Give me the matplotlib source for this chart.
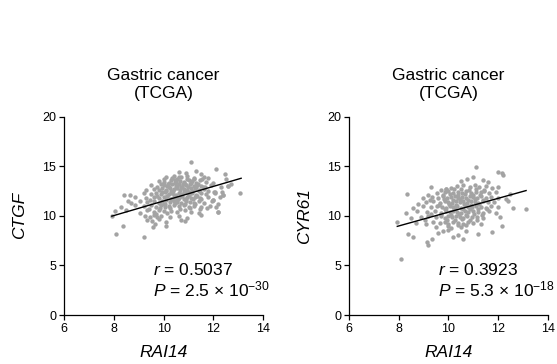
import matplotlib
matplotlib.use("Agg")
import matplotlib.pyplot as plt

plt.rcParams['font.family'] = ['Liberation Sans', 'DejaVu Sans']
plt.rcParams['mathtext.fontset'] = 'custom'
plt.rcParams['mathtext.rm'] = 'Liberation Sans'
plt.rcParams['mathtext.it'] = 'Liberation Sans:italic'

# Panel 1: RAI14 vs CTGF (gastric cancer, TCGA)
rai14_a = [
    11.1, 12.1, 12.45, 11.5, 10.6, 11.3, 10.9, 11.8,
    10.1, 10.4, 10.7, 10.95, 11.2, 11.6, 12.5, 10.55,
    9.8, 10.0, 10.3, 10.5, 10.65, 10.8, 11.0, 11.15, 11.3, 11.45, 11.7, 12.0, 12.6, 10.2,
    9.5, 9.75, 10.0, 10.15, 10.35, 10.5, 10.6, 10.75, 10.9, 11.05, 11.2, 11.35, 11.5, 11.65, 11.9, 12.3, 10.45, 10.85,
    9.3, 9.6, 9.8, 9.95, 10.1, 10.25, 10.4, 10.55, 10.65, 10.8, 10.95, 11.1, 11.25, 11.4, 11.6, 11.8, 12.05, 12.35, 10.3, 11.0,
    8.65, 9.2, 9.5, 9.7, 9.9, 10.05, 10.2, 10.35, 10.5, 10.6, 10.7, 10.85, 11.0, 11.15, 11.3, 11.5, 11.7, 12.0, 12.4, 8.4, 8.55,
    8.85, 9.3, 9.6, 9.8, 10.0, 10.15, 10.3, 10.45, 10.6, 10.7, 10.8, 10.95, 11.1, 11.25, 11.45, 11.8, 12.05, 9.45, 10.55,
    8.7, 9.05, 9.35, 9.6, 9.8, 9.95, 10.1, 10.25, 10.4, 10.55, 10.7, 10.9, 11.05, 11.2, 11.4, 11.6, 11.95, 12.2,
    8.3, 8.85, 9.2, 9.5, 9.7, 9.9, 10.05, 10.2, 10.4, 10.6, 10.8, 11.0, 11.2, 11.5, 11.85, 12.2, 9.4,
    8.05, 8.5, 9.05, 9.35, 9.6, 9.8, 10.0, 10.3, 10.55, 10.85, 11.1, 11.4, 9.7, 10.15,
    7.92, 9.25, 9.45, 9.6, 9.75, 9.9, 10.25, 10.6, 10.95, 11.5, 9.35, 9.55, 9.8, 10.1, 10.7, 10.87, 8.36, 9.57, 10.1, 8.09, 9.2, 9.65,
    12.2, 12.37, 12.6, 13.07, 11.97, 12.04, 12.7, 12.25, 11.75, 12.1,
    10.02, 10.18, 10.33, 10.47, 10.62, 10.78, 10.92, 11.08, 11.22, 11.38, 11.52, 9.88,
    10.08, 10.22, 10.38, 10.52, 10.68, 10.82, 10.98, 11.12, 11.28, 11.42, 11.58, 9.92,
    10.12, 10.28, 10.42, 10.58, 10.72, 10.88, 11.02, 11.18, 11.32, 11.48, 9.75, 10.0,
    10.05, 10.25, 10.45, 10.65, 10.85, 11.05, 11.25, 11.45, 9.85, 10.35,
]
ctgf = [
    15.4, 14.7, 14.2, 14.2, 14.4, 14.5, 14.3, 13.8,
    13.9, 14.0, 13.95, 14.05, 13.85, 13.9, 13.7, 13.75,
    13.5, 13.4, 13.6, 13.45, 13.55, 13.4, 13.6, 13.5, 13.35, 13.6, 13.45, 13.3, 13.0, 13.3,
    13.1, 12.95, 13.15, 13.0, 13.2, 13.05, 13.25, 12.95, 13.1, 13.2, 13.0, 13.15, 13.05, 12.9, 13.1, 12.9, 13.3, 13.25,
    12.6, 12.75, 12.6, 12.8, 12.65, 12.8, 12.7, 12.85, 12.6, 12.75, 12.65, 12.8, 12.7, 12.6, 12.75, 12.55, 12.4, 12.4, 12.5, 12.45,
    12.1, 12.3, 12.2, 12.35, 12.25, 12.4, 12.2, 12.3, 12.15, 12.35, 12.25, 12.4, 12.2, 12.3, 12.15, 12.3, 12.2, 11.6, 12.1, 12.1, 11.5,
    11.9, 11.85, 11.95, 11.8, 11.9, 12.0, 11.75, 11.95, 11.85, 12.0, 11.7, 11.9, 11.8, 11.95, 11.8, 11.9, 12.35, 11.6, 11.6,
    11.3, 11.45, 11.4, 11.5, 11.3, 11.45, 11.55, 11.35, 11.5, 11.4, 11.3, 11.5, 11.4, 11.25, 11.45, 11.3, 11.5, 11.2,
    10.9, 11.1, 10.95, 11.05, 10.9, 11.1, 10.85, 11.0, 11.1, 10.95, 11.05, 10.9, 11.0, 10.85, 10.95, 10.4, 10.7,
    10.5, 10.6, 10.3, 10.55, 10.4, 10.6, 10.45, 10.5, 10.35, 10.55, 10.4, 10.3, 10.2, 10.25,
    10.0, 10.0, 9.9, 10.05, 9.85, 10.0, 9.9, 9.95, 9.8, 10.1, 9.6, 9.5, 9.65, 9.4, 9.6, 9.5, 8.97, 8.9, 9.0, 8.2, 7.9, 9.2,
    10.4, 12.1, 13.0, 12.3, 11.6, 12.4, 13.2, 11.9, 10.8, 10.9,
    13.75, 13.25, 13.8, 13.65, 13.9, 13.2, 13.7, 13.35, 13.75, 13.25, 13.7, 13.2,
    12.55, 12.95, 12.5, 13.0, 12.9, 12.45, 12.95, 12.55, 12.9, 12.5, 12.95, 12.45,
    12.05, 11.65, 12.1, 11.7, 12.05, 11.65, 12.1, 11.7, 12.05, 11.65, 12.05, 11.2,
    11.2, 10.75, 11.25, 10.7, 11.2, 10.75, 11.15, 10.7, 10.75, 11.65,
]

# Panel 2: RAI14 vs CYR61
rai14_b = [
    11.1, 11.98, 12.15, 12.2, 10.73, 10.5, 11.0, 11.4, 11.6,
    9.3, 10.33, 10.1, 10.6, 10.85, 11.05, 11.25, 11.5, 11.75, 12.0, 9.9,
    8.35, 9.7, 9.55, 9.85, 10.0, 10.2, 10.4, 10.55, 10.7, 10.9, 11.1, 11.3, 11.45, 11.65, 11.9, 12.48, 9.2,
    9.0, 9.35, 9.6, 9.8, 9.95, 10.1, 10.25, 10.4, 10.55, 10.7, 10.85, 11.0, 11.15, 11.3, 11.5, 11.7, 12.0, 12.3,
    8.8, 9.1, 9.4, 9.65, 9.85, 10.0, 10.15, 10.3, 10.45, 10.6, 10.75, 10.9, 11.05, 11.2, 11.4, 11.6, 11.85, 12.4, 9.25,
    8.6, 9.0, 9.3, 9.55, 9.75, 9.9, 10.05, 10.2, 10.35, 10.5, 10.65, 10.8, 10.95, 11.1, 11.3, 11.5, 11.7, 12.6, 13.1, 12.0,
    8.3, 8.75, 9.15, 9.45, 9.7, 9.9, 10.05, 10.2, 10.35, 10.5, 10.65, 10.8, 11.0, 11.2, 11.4, 11.65, 11.9, 9.3,
    8.5, 8.9, 9.2, 9.5, 9.7, 9.85, 10.0, 10.15, 10.3, 10.45, 10.6, 10.75, 10.95, 11.15, 11.4, 12.07, 7.95, 9.05,
    8.7, 9.1, 9.4, 9.65, 9.85, 10.0, 10.2, 10.4, 10.6, 10.8, 11.0, 11.3, 9.5, 10.1, 10.5,
    8.4, 8.6, 9.13, 9.2, 9.8, 10.2, 10.6, 11.2, 11.74, 12.14, 8.1, 9.6, 10.0, 10.4, 10.7, 9.35,
    9.78, 9.92, 10.08, 10.22, 10.38, 10.52, 10.68, 10.82, 10.98, 11.12, 11.28, 11.42,
    9.62, 9.82, 10.02, 10.18, 10.32, 10.48, 10.62, 10.78, 10.92, 11.08, 11.22, 11.38,
    9.72, 9.88, 10.12, 10.28, 10.42, 10.58, 10.72, 10.88, 11.02, 11.18, 11.35, 11.55,
    9.95, 10.25, 10.55, 10.85, 11.15, 10.4, 10.7, 10.0,
]
cyr61 = [
    14.9, 14.4, 14.35, 14.1, 13.7, 13.5, 13.9, 13.6, 13.4,
    12.9, 13.0, 12.85, 13.1, 12.95, 13.15, 12.9, 13.05, 12.8, 12.9, 12.7,
    12.2, 12.6, 12.35, 12.4, 12.5, 12.3, 12.45, 12.35, 12.5, 12.3, 12.45, 12.4, 12.55, 12.3, 12.4, 12.2, 12.1,
    11.8, 11.95, 11.85, 12.0, 11.8, 11.9, 12.05, 11.85, 11.95, 11.8, 12.0, 11.9, 11.85, 12.0, 11.8, 11.95, 11.85, 11.7,
    11.2, 11.35, 11.45, 11.3, 11.5, 11.4, 11.3, 11.5, 11.35, 11.45, 11.3, 11.5, 11.4, 11.3, 11.45, 11.35, 11.4, 11.5, 11.6,
    10.8, 10.95, 10.85, 11.0, 10.9, 10.8, 11.0, 10.85, 10.95, 10.8, 11.05, 10.9, 10.85, 11.0, 10.9, 10.8, 10.95, 10.8, 10.7, 10.9,
    10.3, 10.45, 10.35, 10.5, 10.3, 10.45, 10.35, 10.5, 10.4, 10.3, 10.45, 10.35, 10.5, 10.4, 10.3, 10.45, 10.3, 10.2,
    9.8, 9.9, 9.95, 9.85, 10.0, 9.8, 9.95, 9.85, 10.0, 9.9, 9.8, 9.95, 9.85, 9.9, 9.8, 9.9, 9.4, 9.6,
    9.3, 9.2, 9.35, 9.25, 9.4, 9.2, 9.35, 9.3, 9.2, 9.4, 9.3, 9.2, 8.9, 8.8, 8.9,
    8.2, 7.9, 7.4, 7.1, 8.5, 7.9, 7.7, 8.2, 8.4, 9.0, 5.6, 8.3, 8.6, 8.1, 8.5, 7.7,
    12.15, 12.75, 12.2, 12.7, 12.15, 12.75, 12.2, 12.65, 12.15, 12.7, 12.15, 12.65,
    11.1, 11.65, 11.15, 11.6, 11.1, 11.65, 11.15, 11.6, 11.1, 11.65, 11.15, 11.6,
    10.15, 10.65, 10.1, 10.7, 10.15, 10.65, 10.1, 10.7, 10.15, 10.65, 10.1, 10.65,
    9.6, 9.55, 9.65, 9.55, 9.6, 9.1, 9.05, 8.95,
]

# regression lines (end points)
fit_a_x = [7.92, 13.11]
fit_a_y = [9.97, 13.79]
fit_b_x = [7.95, 13.12]
fit_b_y = [8.94, 12.55]

panels = [
    (rai14_a, ctgf, fit_a_x, fit_a_y, "CTGF", r"$r$ = 0.5037", r"$P$ = 2.5 × 10$^{-30}$"),
    (rai14_b, cyr61, fit_b_x, fit_b_y, "CYR61", r"$r$ = 0.3923", r"$P$ = 5.3 × 10$^{-18}$"),
]
lefts = [64 / 557, 348.7 / 557]

fig = plt.figure(figsize=(5.57, 3.64), dpi=100)

for (xs, ys, fx, fy, ylab, rtxt, ptxt), left in zip(panels, lefts):
    ax = fig.add_axes([left, 0.1346, 199.3 / 557, 0.5448])
    ax.scatter(xs, ys, s=10, color='#a3a3a3', linewidths=0, zorder=2)
    ax.plot(fx, fy, color='black', lw=1.0, zorder=3)

    ax.set_xlim(6, 14)
    ax.set_ylim(0, 20)
    ax.set_xticks([6, 8, 10, 12, 14])
    ax.set_yticks([0, 5, 10, 15, 20])
    for s in ['top', 'right']:
        ax.spines[s].set_visible(False)
    for s in ['left', 'bottom']:
        ax.spines[s].set_linewidth(0.9)
    ax.tick_params(length=3.5, width=0.9, labelsize=9, pad=2)

    ax.set_xlabel("RAI14", fontsize=12.5, style='italic')
    ax.xaxis.set_label_coords(0.5, -0.15)
    ax.set_ylabel(ylab, fontsize=12.5, style='italic')
    ax.yaxis.set_label_coords(-0.184, 0.5)

    ax.text(0.5, 1.162, "Gastric cancer\n(TCGA)", transform=ax.transAxes,
            ha='center', va='center', fontsize=12.5, linespacing=1.2)
    ax.text(9.59, 4.5, rtxt, fontsize=12.5, ha='left', va='center')
    ax.text(9.59, 2.6, ptxt, fontsize=12.5, ha='left', va='center')

fig.savefig("out.png", dpi=100)
